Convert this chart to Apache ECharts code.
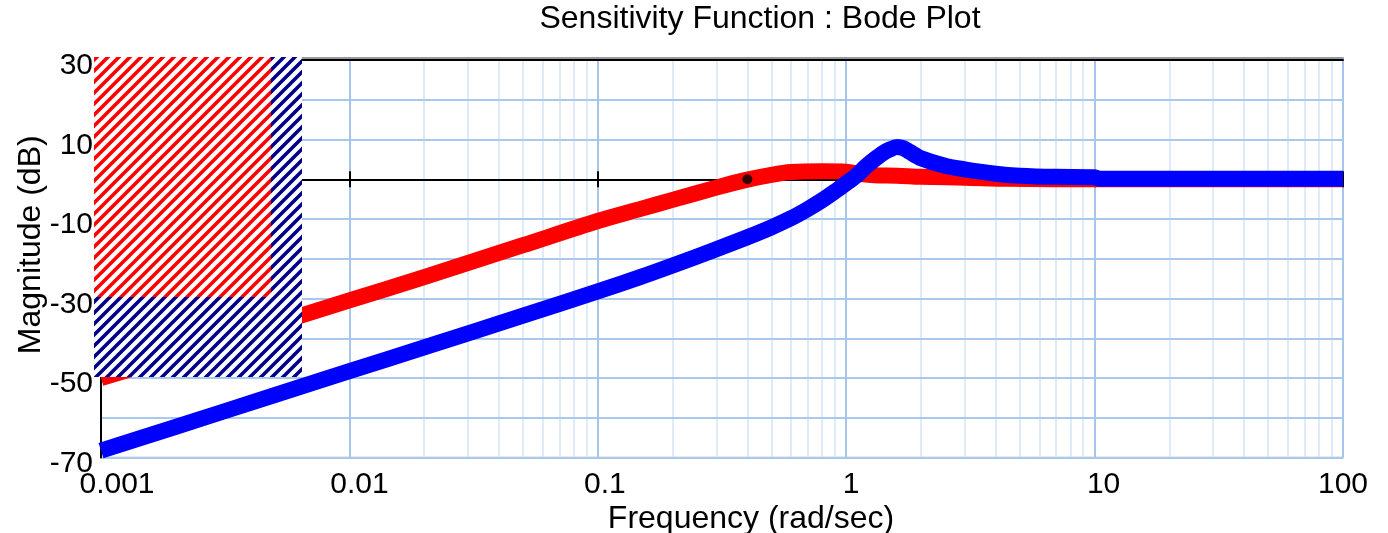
<!DOCTYPE html>
<html>
<head>
<meta charset="utf-8">
<script src="https://cdn.jsdelivr.net/npm/echarts@6/dist/echarts.min.js"></script>
<style>
  html, body { margin: 0; padding: 0; background: #ffffff; }
  #chart { width: 1388px; height: 533px; }
</style>
</head>
<body>
<div id="chart"></div>
<script>
// ---- data -------------------------------------------------------------
const X_TICKS = [0.001, 0.01, 0.1, 1, 10, 100];
const Y_LABELS = [30, 10, -10, -30, -50, -70];
const MINOR_STEPS = [2, 3, 4, 5, 6, 7, 8, 9];

// red trace: frequency (rad/sec) and magnitude (dB)
const redFreq = [0.001, 0.002, 0.005, 0.01, 0.02, 0.05, 0.1, 0.15, 0.2, 0.3, 0.4, 0.5,
                 0.6, 0.8, 1.0, 1.15, 1.3, 1.6, 2.0, 3.0, 4.5, 10, 20, 50, 100];
const redMag  = [-50.0, -44.3, -36.4, -30.5, -24.6, -16.6, -10.5, -7.4, -5.2, -2.1, -0.1, 1.1,
                 1.8, 2.0, 1.9, 1.3, 1.0, 0.9, 0.6, 0.4, 0.1, 0.0, 0.0, 0.0, 0.0];

// blue trace: frequency (rad/sec) and magnitude (dB)
const blueFreq = [0.001, 0.002, 0.005, 0.01, 0.02, 0.05, 0.1, 0.15, 0.2, 0.3, 0.4, 0.5,
                  0.6, 0.7, 0.8, 0.9, 1.0, 1.1, 1.2, 1.3, 1.4, 1.5, 1.6, 1.7, 1.8,
                  2.0, 2.5, 3.0, 4.0, 5.0, 7.0, 10, 10.5, 20, 50, 100];
const blueMag  = [-68.3, -62.3, -54.3, -48.3, -42.3, -34.3, -28.2, -24.5, -21.7, -17.6, -14.6, -12.1,
                  -9.8, -7.5, -5.3, -3.1, -1.0, 0.9, 3.2, 5.0, 6.5, 7.5, 8.1, 7.8, 6.9,
                  5.3, 3.4, 2.5, 1.4, 0.9, 0.6, 0.5, 0.1, 0.1, 0.1, 0.1];

// marked point on the red trace
const markFreq = [0.4];
const markMag = [0.0];

// ---- helpers ----------------------------------------------------------
const FONT = '"Liberation Sans", Arial, Helvetica, sans-serif';
const zip = (xs, ys) => xs.map((x, i) => [x, ys[i]]);

// diagonal hatch tile: coloured stripes on white
function stripeTile(color) {
  const s = 11;
  const c = document.createElement('canvas');
  c.width = s; c.height = s;
  const g = c.getContext('2d');
  g.fillStyle = '#ffffff';
  g.fillRect(0, 0, s, s);
  g.strokeStyle = color;
  g.lineWidth = 3.6;
  g.beginPath();
  [-s, 0, s].forEach(k => {
    g.moveTo(k - 1, s + 1);
    g.lineTo(k + s + 1, -1);
  });
  g.stroke();
  return c;
}

const minorLines = [];
X_TICKS.slice(0, -1).forEach(d => MINOR_STEPS.forEach(m => minorLines.push({ xAxis: d * m })));

const fmtFreq = v => String(Number(Number(v).toPrecision(3)));

// per-label horizontal nudge (px) of the frequency labels
const freqLabelNudge = { '0.001': 16, '0.01': 10, '0.1': 7, '1': 5, '10': 9, '100': 0 };
const freqRich = {};
Object.keys(freqLabelNudge).forEach((k, i) => {
  freqRich['f' + i] = {
    fontFamily: FONT, fontSize: 30, color: '#000',
    padding: [0, 0, 0, 2 * freqLabelNudge[k]]
  };
});
const freqLabel = v => {
  const t = fmtFreq(v);
  const i = Object.keys(freqLabelNudge).indexOf(t);
  return i >= 0 ? '{f' + i + '|' + t + '}' : t;
};

const logAxisBase = { type: 'log', logBase: 10, min: 0.001, max: 100, splitNumber: 5 };

const chart = echarts.init(document.getElementById('chart'), null, { renderer: 'canvas' });

chart.setOption({
  animation: false,
  backgroundColor: '#ffffff',
  title: {
    text: 'Sensitivity Function : Bode Plot',
    left: 760, top: 3, padding: 0,
    textAlign: 'center',
    textStyle: { fontFamily: FONT, fontSize: 32, fontWeight: 'normal', color: '#000' }
  },
  grid: {
    left: 101, right: 45, top: 60, bottom: 75.5,
    containLabel: false, outerBoundsMode: 'none',
    show: true, borderColor: '#d8d8d8', borderWidth: 2, backgroundColor: 'transparent'
  },
  xAxis: [
    Object.assign({}, logAxisBase, {
      position: 'bottom', z: 1.5,
      axisLine: { show: false, onZero: false },
      axisTick: { show: false },
      splitLine: { show: true, lineStyle: { color: '#a6c6eb', width: 2 } },
      axisLabel: { fontFamily: FONT, fontSize: 30, color: '#000', margin: 12,
                   formatter: freqLabel, rich: freqRich },
      name: 'Frequency (rad/sec)',
      nameLocation: 'middle',
      nameGap: 46,
      nameMoveOverlap: false,
      nameTextStyle: { fontFamily: FONT, fontSize: 32, color: '#000', padding: [0, 0, 0, 58] }
    }),
    // 0 dB reference line with ticks crossing it on both sides
    Object.assign({}, logAxisBase, {
      position: 'bottom', z: 1.8,
      axisLine: { show: true, onZero: true, onZeroAxisIndex: 0, lineStyle: { color: '#000', width: 2 } },
      axisTick: { show: true, inside: true, length: 8, lineStyle: { color: '#000', width: 2 } },
      axisLabel: { show: false },
      splitLine: { show: false }
    }),
    Object.assign({}, logAxisBase, {
      position: 'bottom', z: 1.8,
      axisLine: { show: false, onZero: true, onZeroAxisIndex: 0 },
      axisTick: { show: true, inside: false, length: 8, lineStyle: { color: '#000', width: 2 } },
      axisLabel: { show: false },
      splitLine: { show: false }
    }),
    // frame top edge
    Object.assign({}, logAxisBase, {
      position: 'top', z: 1.8,
      axisLine: { show: true, onZero: false,
        lineStyle: { color: '#000', width: 2, shadowColor: 'rgba(0,0,0,0.4)', shadowOffsetY: -2 } },
      axisTick: { show: false },
      axisLabel: { show: false },
      splitLine: { show: false }
    })
  ],
  yAxis: {
    type: 'value', min: -70, max: 30, interval: 10, z: 1.5,
    axisLine: { show: true, onZero: false, lineStyle: { color: '#000', width: 2 } },
    axisTick: { show: false },
    splitLine: { show: true, lineStyle: { color: '#a9c9ec', width: 2 } },
    axisLabel: {
      fontFamily: FONT, fontSize: 30, color: '#000', margin: 8,
      formatter: v => (Y_LABELS.includes(v) ? '{v|' + v + '}' : ''),
      rich: { v: { fontFamily: FONT, fontSize: 30, color: '#000', padding: [12, 0, 0, 0] } }
    },
    name: 'Magnitude (dB)',
    nameLocation: 'middle',
    nameRotate: 90,
    nameGap: 54,
    nameMoveOverlap: false,
    nameTextStyle: { fontFamily: FONT, fontSize: 32, color: '#000', padding: [0, 0, 0, 28] }
  },
  series: [
    {
      name: 'red', type: 'line', xAxisIndex: 0, yAxisIndex: 0,
      data: zip(redFreq, redMag),
      symbol: 'none', smooth: 0.3, z: 2,
      lineStyle: { color: '#ff0000', width: 16, cap: 'butt', join: 'round' },
      markLine: {
        silent: true, z: 1, symbol: ['none', 'none'], animation: false,
        label: { show: false },
        lineStyle: { color: '#d3e4f7', width: 1.5, type: 'solid' },
        emphasis: { disabled: true },
        data: minorLines
      }
    },
    {
      name: 'blue', type: 'line', xAxisIndex: 0, yAxisIndex: 0,
      data: zip(blueFreq, blueMag),
      symbol: 'none', smooth: 0.3, z: 3,
      lineStyle: { color: '#0000ff', width: 16, cap: 'butt', join: 'round' }
    },
    {
      name: 'mark', type: 'scatter', xAxisIndex: 0, yAxisIndex: 0,
      data: zip(markFreq, markMag),
      symbol: 'circle', symbolSize: 10, z: 5,
      itemStyle: { color: '#000' }
    }
  ],
  graphic: [
    {
      type: 'rect', z: 100, silent: true,
      shape: { x: 94, y: 57, width: 177, height: 240 },
      style: { fill: { image: stripeTile('#ff0000'), repeat: 'repeat' } }
    },
    {
      type: 'polygon', z: 100, silent: true,
      shape: { points: [[271, 57], [302, 57], [302, 377], [94, 377], [94, 297], [271, 297]] },
      style: { fill: { image: stripeTile('#00008b'), repeat: 'repeat' } }
    }
  ]
});
</script>
</body>
</html>
